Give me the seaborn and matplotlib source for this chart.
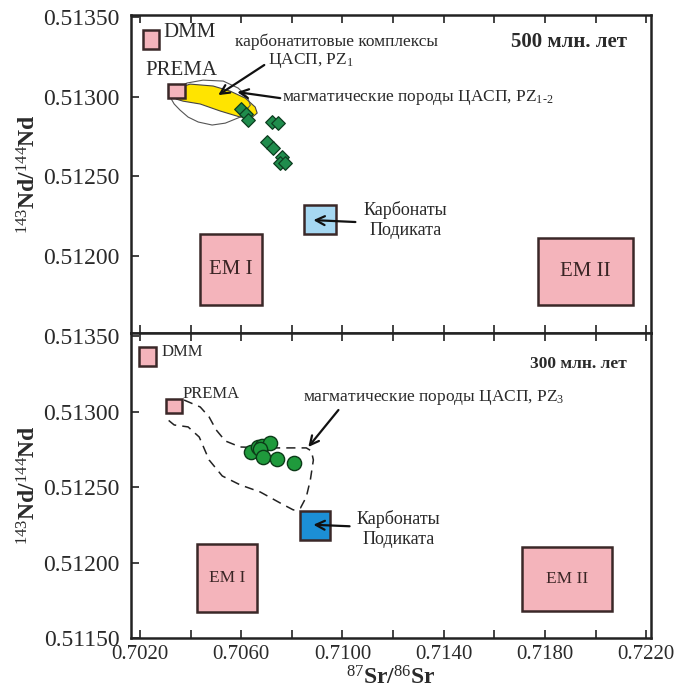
import numpy as np
import pandas as pd
import matplotlib
matplotlib.use("Agg")
import matplotlib.pyplot as plt
from matplotlib.patches import Rectangle, Polygon
import seaborn as sns

# ---------------- data ----------------
# reservoir boxes: (x0, x1, y0, y1)
top_boxes_names = ["DMM", "PREMA", "EM I", "EM II", "carb"]
top_box_x0 = [0.70211, 0.70310, 0.70438, 0.71772, 0.70849]
top_box_x1 = [0.70275, 0.70378, 0.70683, 0.72148, 0.70976]
top_box_y0 = [0.51330, 0.51299, 0.51169, 0.51169, 0.51214]
top_box_y1 = [0.51342, 0.51308, 0.51214, 0.51211, 0.51232]

bot_box_x0 = [0.70196, 0.70303, 0.70426, 0.71709, 0.70834]
bot_box_x1 = [0.70263, 0.70366, 0.70663, 0.72065, 0.70952]
bot_box_y0 = [0.51330, 0.51299, 0.51167, 0.51168, 0.51215]
bot_box_y1 = [0.51343, 0.51308, 0.51212, 0.51210, 0.51234]

# magmatic rocks, 500 Ma (diamonds)
dia_sr = [0.70600, 0.70620, 0.70628, 0.70723, 0.70747, 0.70703, 0.70727, 0.70762, 0.70754, 0.70774]
dia_nd = [0.512922, 0.512891, 0.512853, 0.512841, 0.512834, 0.512715, 0.512677, 0.512621, 0.512583, 0.512583]

# magmatic rocks, 300 Ma (circles)
cir_sr = [0.70640, 0.70667, 0.70683, 0.70715, 0.70675, 0.70687, 0.70743, 0.70810]
cir_nd = [0.512732, 0.512765, 0.512772, 0.512792, 0.512752, 0.512699, 0.512686, 0.512659]

# carbonatite field (yellow), 500 Ma
carb_sr = [0.70335, 0.70350, 0.70398, 0.70489, 0.70556, 0.70616, 0.70655, 0.70663,
           0.70644, 0.70596, 0.70517, 0.70438, 0.70370, 0.70343]
carb_nd = [0.513010, 0.513054, 0.513079, 0.513067, 0.513035, 0.512991, 0.512935, 0.512897,
           0.512872, 0.512872, 0.512910, 0.512954, 0.512972, 0.512985]

# magmatic field outline, 500 Ma
mag_sr = [0.70319, 0.70339, 0.70386, 0.70449, 0.70529, 0.70588, 0.70624, 0.70636,
          0.70596, 0.70537, 0.70485, 0.70430, 0.70390, 0.70358, 0.70335, 0.70319]
mag_nd = [0.512998, 0.513048, 0.513086, 0.513104, 0.513098, 0.513054, 0.512998, 0.512947,
          0.512872, 0.512834, 0.512822, 0.512841, 0.512872, 0.512916, 0.512954, 0.512998]

# dashed field, 300 Ma
dash_sr = [0.70374, 0.70438, 0.70473, 0.70501, 0.70537, 0.70596, 0.70715, 0.70857, 0.70877,
           0.70885, 0.70873, 0.70857, 0.70834, 0.70806, 0.70754, 0.70675, 0.70596, 0.70525,
           0.70473, 0.70434, 0.70390, 0.70335, 0.70311]
dash_nd = [0.513076, 0.513030, 0.512964, 0.512878, 0.512805, 0.512765, 0.512759, 0.512759,
           0.512739, 0.512679, 0.512547, 0.512434, 0.512361, 0.512348, 0.512394, 0.512467,
           0.512514, 0.512573, 0.512679, 0.512831, 0.512898, 0.512911, 0.512944]

x_ticks = [0.7020, 0.7040, 0.7060, 0.7080, 0.7100, 0.7120, 0.7140, 0.7160, 0.7180, 0.7200, 0.7220]
x_labels = ["0.7020", "", "0.7060", "", "0.7100", "", "0.7140", "", "0.7180", "", "0.7220"]
y_ticks_top = [0.5120, 0.5125, 0.5130, 0.5135]
y_ticks_bot = [0.5115, 0.5120, 0.5125, 0.5130, 0.5135]

# ---------------- style ----------------
sns.set_style("ticks")
plt.rcParams["font.family"] = ["Liberation Serif", "DejaVu Serif"]
plt.rcParams["mathtext.fontset"] = "custom"
plt.rcParams["mathtext.rm"] = "Liberation Serif"
plt.rcParams["mathtext.it"] = "Liberation Serif:italic"
plt.rcParams["mathtext.bf"] = "Liberation Serif:bold"

PINK = "#f4b4bb"
EDGE = "#3a2828"
TXT = "#2a2a2a"
GREEN = "#1f8c4c"

fig = plt.figure(figsize=(6.75, 6.94), dpi=100)
W, H = 675, 694
L, R = 131, 651
ax1 = fig.add_axes([L / W, 1 - 333 / H, (R - L) / W, (333 - 15) / H])
ax2 = fig.add_axes([L / W, 1 - 638 / H, (R - L) / W, (638 - 333) / H])

XLIM = (0.701644, 0.72219)
ax1.set_xlim(*XLIM)
ax2.set_xlim(*XLIM)
ax1.set_ylim(0.511516, 0.513513)
ax2.set_ylim(0.5115, 0.51352)

box_colors = [PINK, PINK, PINK, PINK, None]


def draw_boxes(ax, x0, x1, y0, y1, carb_color, lw):
    for i in range(len(x0)):
        fc = carb_color if box_colors[i] is None else box_colors[i]
        ax.add_patch(Rectangle((x0[i], y0[i]), x1[i] - x0[i], y1[i] - y0[i],
                               facecolor=fc, edgecolor=EDGE, lw=lw, zorder=3))


# ---- top panel ----
ax1.add_patch(Polygon(np.column_stack([carb_sr, carb_nd]), closed=True,
                      facecolor="#ffe400", edgecolor="#444444", lw=0.8, zorder=2))
ax1.plot(mag_sr, mag_nd, color="#555555", lw=0.8, zorder=2)
draw_boxes(ax1, top_box_x0, top_box_x1, top_box_y0, top_box_y1, "#a6d8f2", 1.8)
sns.scatterplot(x=dia_sr, y=dia_nd, ax=ax1, marker="D", s=48, color=GREEN,
                edgecolor="#0d3d20", linewidth=0.9, zorder=4, legend=False)

# ---- bottom panel ----
ax2.plot(dash_sr, dash_nd, color="#222222", lw=1.1, ls=(0, (6, 4)), zorder=2)
draw_boxes(ax2, bot_box_x0, bot_box_x1, bot_box_y0, bot_box_y1, "#1c8fd6", 1.8)
sns.scatterplot(x=cir_sr, y=cir_nd, ax=ax2, marker="o", s=105, color="#1f9a3c",
                edgecolor="#0c3a18", linewidth=1.0, zorder=4, legend=False)

# ---- axes styling ----
for ax, yt in ((ax1, y_ticks_top), (ax2, y_ticks_bot)):
    for sp in ax.spines.values():
        sp.set_linewidth(1.8)
        sp.set_color("#222222")
        sp.set_visible(True)
    ax.set_xticks(x_ticks)
    ax.set_yticks(yt)
    ax.set_yticklabels([f"{v:.5f}" for v in yt])
    ax.tick_params(axis="both", direction="in", length=6, width=1.2, color="#222222",
                   labelcolor=TXT)
    ax.tick_params(axis="x", top=True, bottom=True)
    ax.tick_params(axis="y", left=True, right=False, labelsize=17, pad=8)
    ax.set_xlabel("")
    ax.set_ylabel("")

ax1.set_xticklabels([""] * len(x_ticks))
ax2.set_xticklabels(x_labels)
ax2.tick_params(axis="x", labelsize=15, pad=5)

ylab = r"$\mathbf{^{\mathsf{143}}Nd/^{\mathsf{144}}Nd}$"
ylab = r"$^{143}\mathbf{Nd/}^{144}\mathbf{Nd}$"
ax1.set_ylabel(ylab, fontsize=17, color=TXT, labelpad=2)
ax2.set_ylabel(ylab, fontsize=17, color=TXT, labelpad=2)
ax2.set_xlabel(r"$^{87}\mathbf{Sr/}^{86}\mathbf{Sr}$", fontsize=17, color=TXT, labelpad=2)

# ---- annotations, top ----
ax1.text(0.70291, 0.51340, "DMM", fontsize=15, color=TXT, va="center", ha="left")
ax1.text(0.70220, 0.513167, "PREMA", fontsize=15, color=TXT, va="center", ha="left")
ax1.text(0.70976, 0.513343, "карбонатитовые комплексы", fontsize=12.5, color=TXT,
         ha="center", va="center")
ax1.text(0.70707, 0.51323, r"ЦАСП, PZ$_{1}$", fontsize=12.5, color=TXT, ha="left", va="center")
ax1.text(0.70762, 0.512998, r"магматические породы ЦАСП, PZ$_{1\text{-}2}$", fontsize=12.5,
         color=TXT, ha="left", va="center")
ax1.text(0.72125, 0.513343, "500 млн. лет", fontsize=15, fontweight="bold", color=TXT,
         ha="right", va="center")
ax1.text(0.71249, 0.512225, "Карбонаты\nПодиката", fontsize=13, color=TXT, ha="center",
         va="center", linespacing=1.2)
ax1.text((top_box_x0[2] + top_box_x1[2]) / 2, (top_box_y0[2] + top_box_y1[2]) / 2, "EM I",
         fontsize=15, color="#3a2525", ha="center", va="center", zorder=5)
ax1.text((top_box_x0[3] + top_box_x1[3]) / 2, (top_box_y0[3] + top_box_y1[3]) / 2, "EM II",
         fontsize=15, color="#3a2525", ha="center", va="center", zorder=5)

arrow = dict(arrowstyle="->", lw=1.6, color="#111111", mutation_scale=16,
             shrinkA=0, shrinkB=0)
ax1.annotate("", xy=(0.70509, 0.513010), xytext=(0.70691, 0.513199), arrowprops=arrow, zorder=6)
ax1.annotate("", xy=(0.70584, 0.513029), xytext=(0.70754, 0.512991), arrowprops=arrow, zorder=6)
ax1.annotate("", xy=(0.70885, 0.512225), xytext=(0.71051, 0.512213), arrowprops=arrow, zorder=6)

# ---- annotations, bottom ----
ax2.text(0.70283, 0.513394, "DMM", fontsize=12, color=TXT, va="center", ha="left")
ax2.text(0.70366, 0.513116, "PREMA", fontsize=12, color=TXT, va="center", ha="left")
ax2.text(0.72125, 0.513315, "300 млн. лет", fontsize=12.5, fontweight="bold", color=TXT,
         ha="right", va="center")
ax2.text(0.70845, 0.513096, r"магматические породы ЦАСП, PZ$_{3}$", fontsize=12.5, color=TXT,
         ha="left", va="center")
ax2.text(0.71222, 0.512222, "Карбонаты\nПодиката", fontsize=13, color=TXT, ha="center",
         va="center", linespacing=1.2)
ax2.text((bot_box_x0[2] + bot_box_x1[2]) / 2, (bot_box_y0[2] + bot_box_y1[2]) / 2, "EM I",
         fontsize=12.5, color="#3a2525", ha="center", va="center", zorder=5)
ax2.text((bot_box_x0[3] + bot_box_x1[3]) / 2, (bot_box_y0[3] + bot_box_y1[3]) / 2, "EM II",
         fontsize=12.5, color="#3a2525", ha="center", va="center", zorder=5)
ax2.annotate("", xy=(0.70865, 0.512765), xytext=(0.70984, 0.51301), arrowprops=arrow, zorder=6)
ax2.annotate("", xy=(0.70885, 0.512250), xytext=(0.71028, 0.512240), arrowprops=arrow, zorder=6)

fig.savefig("out.png", dpi=100)
